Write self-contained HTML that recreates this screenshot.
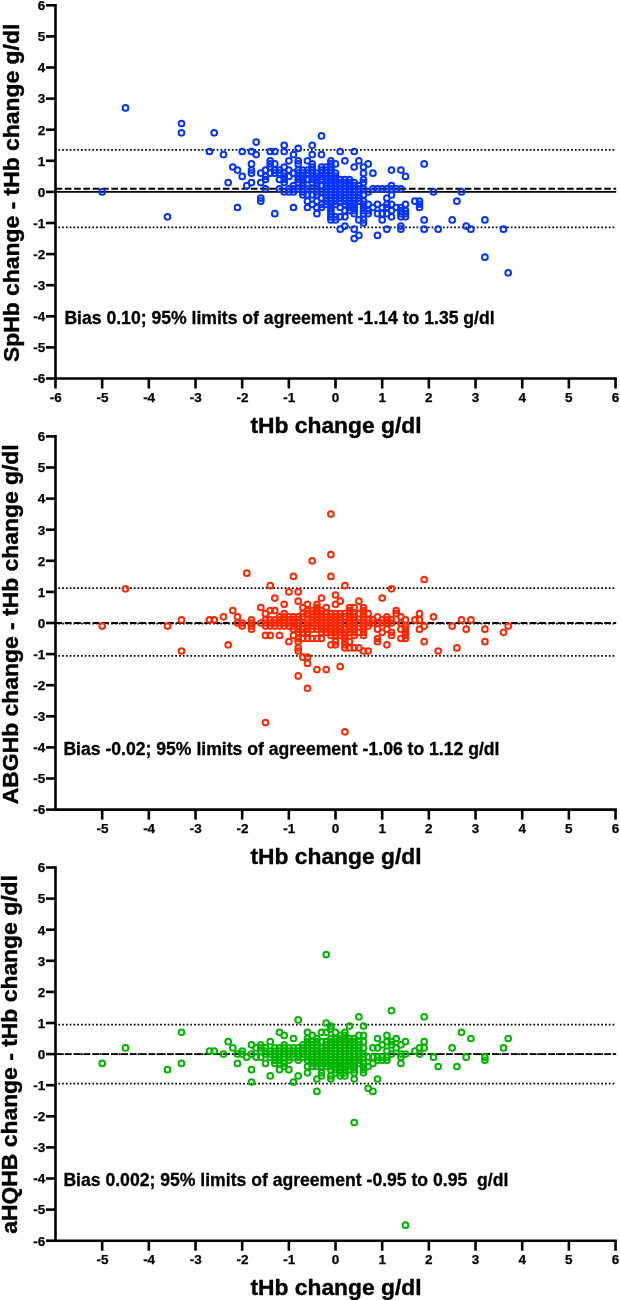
<!DOCTYPE html><html><head><meta charset="utf-8"><title>Bland-Altman</title><style>html,body{margin:0;padding:0;background:#fff}svg{display:block}text{font-family:"Liberation Sans",Arial,Helvetica,sans-serif;font-weight:bold;fill:#000;stroke:#000;stroke-width:.4px}.t{font-size:13.5px;stroke-width:.25px}.xl{font-size:22.8px}.yl{font-size:22.9px}.an{font-size:17.6px;stroke-width:.3px;white-space:pre}</style></head><body>
<svg width="620" height="1300" viewBox="0 0 620 1300">
<rect width="620" height="1300" fill="#fff"/>
<g id="panel1">
<line x1="55.5" x2="616.2" y1="149.92" y2="149.92" stroke="#000" stroke-width="1.7" stroke-dasharray="1.7 2.07" stroke-dashoffset="-2.9"/>
<line x1="55.5" x2="616.2" y1="227.35" y2="227.35" stroke="#000" stroke-width="1.7" stroke-dasharray="1.7 2.07" stroke-dashoffset="-2.9"/>
<line x1="55.5" x2="616.2" y1="191.90" y2="191.90" stroke="#000" stroke-width="1.9"/>
<line x1="55.5" x2="616.2" y1="188.79" y2="188.79" stroke="#000" stroke-width="1.9" stroke-dasharray="6.7 2.6"/>
<g fill="none" stroke="#0433ff" stroke-width="2">
<circle cx="102.2" cy="191.9" r="2.85"/>
<circle cx="125.5" cy="107.9" r="2.85"/>
<circle cx="167.5" cy="216.8" r="2.85"/>
<circle cx="181.5" cy="123.5" r="2.85"/>
<circle cx="181.5" cy="132.8" r="2.85"/>
<circle cx="209.5" cy="151.5" r="2.85"/>
<circle cx="214.2" cy="132.8" r="2.85"/>
<circle cx="223.5" cy="154.6" r="2.85"/>
<circle cx="228.2" cy="182.6" r="2.85"/>
<circle cx="232.8" cy="167.0" r="2.85"/>
<circle cx="237.5" cy="170.1" r="2.85"/>
<circle cx="237.5" cy="207.5" r="2.85"/>
<circle cx="242.2" cy="151.5" r="2.85"/>
<circle cx="242.2" cy="176.4" r="2.85"/>
<circle cx="246.8" cy="185.7" r="2.85"/>
<circle cx="251.5" cy="151.5" r="2.85"/>
<circle cx="251.5" cy="163.9" r="2.85"/>
<circle cx="251.5" cy="170.1" r="2.85"/>
<circle cx="251.5" cy="173.2" r="2.85"/>
<circle cx="251.5" cy="182.6" r="2.85"/>
<circle cx="256.2" cy="142.1" r="2.85"/>
<circle cx="256.2" cy="154.6" r="2.85"/>
<circle cx="260.8" cy="173.2" r="2.85"/>
<circle cx="260.8" cy="182.6" r="2.85"/>
<circle cx="260.8" cy="198.1" r="2.85"/>
<circle cx="260.8" cy="201.2" r="2.85"/>
<circle cx="265.5" cy="170.1" r="2.85"/>
<circle cx="265.5" cy="176.4" r="2.85"/>
<circle cx="265.5" cy="179.5" r="2.85"/>
<circle cx="265.5" cy="188.8" r="2.85"/>
<circle cx="270.2" cy="151.5" r="2.85"/>
<circle cx="270.2" cy="160.8" r="2.85"/>
<circle cx="270.2" cy="163.9" r="2.85"/>
<circle cx="270.2" cy="167.0" r="2.85"/>
<circle cx="270.2" cy="173.2" r="2.85"/>
<circle cx="274.8" cy="151.5" r="2.85"/>
<circle cx="274.8" cy="163.9" r="2.85"/>
<circle cx="274.8" cy="170.1" r="2.85"/>
<circle cx="274.8" cy="173.2" r="2.85"/>
<circle cx="274.8" cy="213.7" r="2.85"/>
<circle cx="279.5" cy="170.1" r="2.85"/>
<circle cx="279.5" cy="173.2" r="2.85"/>
<circle cx="279.5" cy="179.5" r="2.85"/>
<circle cx="279.5" cy="188.8" r="2.85"/>
<circle cx="284.2" cy="145.3" r="2.85"/>
<circle cx="284.2" cy="151.5" r="2.85"/>
<circle cx="284.2" cy="167.0" r="2.85"/>
<circle cx="284.2" cy="173.2" r="2.85"/>
<circle cx="284.2" cy="176.4" r="2.85"/>
<circle cx="284.2" cy="179.5" r="2.85"/>
<circle cx="284.2" cy="182.6" r="2.85"/>
<circle cx="284.2" cy="191.9" r="2.85"/>
<circle cx="288.9" cy="160.8" r="2.85"/>
<circle cx="288.9" cy="170.1" r="2.85"/>
<circle cx="288.9" cy="176.4" r="2.85"/>
<circle cx="288.9" cy="188.8" r="2.85"/>
<circle cx="288.9" cy="191.9" r="2.85"/>
<circle cx="293.5" cy="154.6" r="2.85"/>
<circle cx="293.5" cy="173.2" r="2.85"/>
<circle cx="293.5" cy="185.7" r="2.85"/>
<circle cx="293.5" cy="188.8" r="2.85"/>
<circle cx="293.5" cy="191.9" r="2.85"/>
<circle cx="293.5" cy="207.5" r="2.85"/>
<circle cx="298.2" cy="148.4" r="2.85"/>
<circle cx="298.2" cy="160.8" r="2.85"/>
<circle cx="298.2" cy="163.9" r="2.85"/>
<circle cx="298.2" cy="170.1" r="2.85"/>
<circle cx="298.2" cy="173.2" r="2.85"/>
<circle cx="298.2" cy="176.4" r="2.85"/>
<circle cx="298.2" cy="179.5" r="2.85"/>
<circle cx="298.2" cy="182.6" r="2.85"/>
<circle cx="298.2" cy="188.8" r="2.85"/>
<circle cx="302.9" cy="170.1" r="2.85"/>
<circle cx="302.9" cy="173.2" r="2.85"/>
<circle cx="302.9" cy="176.4" r="2.85"/>
<circle cx="302.9" cy="179.5" r="2.85"/>
<circle cx="302.9" cy="182.6" r="2.85"/>
<circle cx="302.9" cy="185.7" r="2.85"/>
<circle cx="302.9" cy="188.8" r="2.85"/>
<circle cx="302.9" cy="191.9" r="2.85"/>
<circle cx="302.9" cy="195.0" r="2.85"/>
<circle cx="307.5" cy="160.8" r="2.85"/>
<circle cx="307.5" cy="170.1" r="2.85"/>
<circle cx="307.5" cy="173.2" r="2.85"/>
<circle cx="307.5" cy="179.5" r="2.85"/>
<circle cx="307.5" cy="188.8" r="2.85"/>
<circle cx="307.5" cy="195.0" r="2.85"/>
<circle cx="307.5" cy="201.2" r="2.85"/>
<circle cx="307.5" cy="207.5" r="2.85"/>
<circle cx="312.2" cy="145.3" r="2.85"/>
<circle cx="312.2" cy="154.6" r="2.85"/>
<circle cx="312.2" cy="163.9" r="2.85"/>
<circle cx="312.2" cy="167.0" r="2.85"/>
<circle cx="312.2" cy="170.1" r="2.85"/>
<circle cx="312.2" cy="173.2" r="2.85"/>
<circle cx="312.2" cy="176.4" r="2.85"/>
<circle cx="312.2" cy="179.5" r="2.85"/>
<circle cx="312.2" cy="182.6" r="2.85"/>
<circle cx="312.2" cy="188.8" r="2.85"/>
<circle cx="312.2" cy="195.0" r="2.85"/>
<circle cx="312.2" cy="204.3" r="2.85"/>
<circle cx="316.9" cy="173.2" r="2.85"/>
<circle cx="316.9" cy="176.4" r="2.85"/>
<circle cx="316.9" cy="179.5" r="2.85"/>
<circle cx="316.9" cy="182.6" r="2.85"/>
<circle cx="316.9" cy="185.7" r="2.85"/>
<circle cx="316.9" cy="188.8" r="2.85"/>
<circle cx="316.9" cy="191.9" r="2.85"/>
<circle cx="316.9" cy="195.0" r="2.85"/>
<circle cx="316.9" cy="201.2" r="2.85"/>
<circle cx="316.9" cy="207.5" r="2.85"/>
<circle cx="316.9" cy="213.7" r="2.85"/>
<circle cx="321.5" cy="135.9" r="2.85"/>
<circle cx="321.5" cy="154.6" r="2.85"/>
<circle cx="321.5" cy="167.0" r="2.85"/>
<circle cx="321.5" cy="170.1" r="2.85"/>
<circle cx="321.5" cy="173.2" r="2.85"/>
<circle cx="321.5" cy="176.4" r="2.85"/>
<circle cx="321.5" cy="179.5" r="2.85"/>
<circle cx="321.5" cy="185.7" r="2.85"/>
<circle cx="321.5" cy="191.9" r="2.85"/>
<circle cx="321.5" cy="198.1" r="2.85"/>
<circle cx="321.5" cy="204.3" r="2.85"/>
<circle cx="321.5" cy="207.5" r="2.85"/>
<circle cx="326.2" cy="167.0" r="2.85"/>
<circle cx="326.2" cy="170.1" r="2.85"/>
<circle cx="326.2" cy="173.2" r="2.85"/>
<circle cx="326.2" cy="176.4" r="2.85"/>
<circle cx="326.2" cy="179.5" r="2.85"/>
<circle cx="326.2" cy="182.6" r="2.85"/>
<circle cx="326.2" cy="185.7" r="2.85"/>
<circle cx="326.2" cy="188.8" r="2.85"/>
<circle cx="326.2" cy="191.9" r="2.85"/>
<circle cx="326.2" cy="195.0" r="2.85"/>
<circle cx="326.2" cy="198.1" r="2.85"/>
<circle cx="326.2" cy="201.2" r="2.85"/>
<circle cx="326.2" cy="204.3" r="2.85"/>
<circle cx="330.9" cy="160.8" r="2.85"/>
<circle cx="330.9" cy="163.9" r="2.85"/>
<circle cx="330.9" cy="167.0" r="2.85"/>
<circle cx="330.9" cy="170.1" r="2.85"/>
<circle cx="330.9" cy="173.2" r="2.85"/>
<circle cx="330.9" cy="176.4" r="2.85"/>
<circle cx="330.9" cy="179.5" r="2.85"/>
<circle cx="330.9" cy="182.6" r="2.85"/>
<circle cx="330.9" cy="185.7" r="2.85"/>
<circle cx="330.9" cy="188.8" r="2.85"/>
<circle cx="330.9" cy="191.9" r="2.85"/>
<circle cx="330.9" cy="195.0" r="2.85"/>
<circle cx="330.9" cy="198.1" r="2.85"/>
<circle cx="330.9" cy="201.2" r="2.85"/>
<circle cx="330.9" cy="204.3" r="2.85"/>
<circle cx="330.9" cy="207.5" r="2.85"/>
<circle cx="330.9" cy="210.6" r="2.85"/>
<circle cx="330.9" cy="213.7" r="2.85"/>
<circle cx="330.9" cy="216.8" r="2.85"/>
<circle cx="330.9" cy="219.9" r="2.85"/>
<circle cx="335.5" cy="163.9" r="2.85"/>
<circle cx="335.5" cy="173.2" r="2.85"/>
<circle cx="335.5" cy="176.4" r="2.85"/>
<circle cx="335.5" cy="179.5" r="2.85"/>
<circle cx="335.5" cy="182.6" r="2.85"/>
<circle cx="335.5" cy="185.7" r="2.85"/>
<circle cx="335.5" cy="188.8" r="2.85"/>
<circle cx="335.5" cy="191.9" r="2.85"/>
<circle cx="335.5" cy="195.0" r="2.85"/>
<circle cx="335.5" cy="198.1" r="2.85"/>
<circle cx="335.5" cy="201.2" r="2.85"/>
<circle cx="335.5" cy="204.3" r="2.85"/>
<circle cx="335.5" cy="216.8" r="2.85"/>
<circle cx="335.5" cy="219.9" r="2.85"/>
<circle cx="340.2" cy="151.5" r="2.85"/>
<circle cx="340.2" cy="179.5" r="2.85"/>
<circle cx="340.2" cy="182.6" r="2.85"/>
<circle cx="340.2" cy="185.7" r="2.85"/>
<circle cx="340.2" cy="188.8" r="2.85"/>
<circle cx="340.2" cy="191.9" r="2.85"/>
<circle cx="340.2" cy="195.0" r="2.85"/>
<circle cx="340.2" cy="198.1" r="2.85"/>
<circle cx="340.2" cy="201.2" r="2.85"/>
<circle cx="340.2" cy="207.5" r="2.85"/>
<circle cx="340.2" cy="216.8" r="2.85"/>
<circle cx="340.2" cy="229.2" r="2.85"/>
<circle cx="344.9" cy="160.8" r="2.85"/>
<circle cx="344.9" cy="179.5" r="2.85"/>
<circle cx="344.9" cy="182.6" r="2.85"/>
<circle cx="344.9" cy="185.7" r="2.85"/>
<circle cx="344.9" cy="188.8" r="2.85"/>
<circle cx="344.9" cy="191.9" r="2.85"/>
<circle cx="344.9" cy="195.0" r="2.85"/>
<circle cx="344.9" cy="198.1" r="2.85"/>
<circle cx="344.9" cy="201.2" r="2.85"/>
<circle cx="344.9" cy="204.3" r="2.85"/>
<circle cx="344.9" cy="210.6" r="2.85"/>
<circle cx="344.9" cy="216.8" r="2.85"/>
<circle cx="344.9" cy="226.1" r="2.85"/>
<circle cx="349.5" cy="179.5" r="2.85"/>
<circle cx="349.5" cy="182.6" r="2.85"/>
<circle cx="349.5" cy="185.7" r="2.85"/>
<circle cx="349.5" cy="188.8" r="2.85"/>
<circle cx="349.5" cy="191.9" r="2.85"/>
<circle cx="349.5" cy="195.0" r="2.85"/>
<circle cx="349.5" cy="198.1" r="2.85"/>
<circle cx="349.5" cy="201.2" r="2.85"/>
<circle cx="349.5" cy="204.3" r="2.85"/>
<circle cx="349.5" cy="207.5" r="2.85"/>
<circle cx="349.5" cy="210.6" r="2.85"/>
<circle cx="354.2" cy="151.5" r="2.85"/>
<circle cx="354.2" cy="167.0" r="2.85"/>
<circle cx="354.2" cy="182.6" r="2.85"/>
<circle cx="354.2" cy="185.7" r="2.85"/>
<circle cx="354.2" cy="188.8" r="2.85"/>
<circle cx="354.2" cy="191.9" r="2.85"/>
<circle cx="354.2" cy="195.0" r="2.85"/>
<circle cx="354.2" cy="198.1" r="2.85"/>
<circle cx="354.2" cy="201.2" r="2.85"/>
<circle cx="354.2" cy="204.3" r="2.85"/>
<circle cx="354.2" cy="207.5" r="2.85"/>
<circle cx="354.2" cy="210.6" r="2.85"/>
<circle cx="354.2" cy="213.7" r="2.85"/>
<circle cx="354.2" cy="229.2" r="2.85"/>
<circle cx="354.2" cy="238.6" r="2.85"/>
<circle cx="358.9" cy="160.8" r="2.85"/>
<circle cx="358.9" cy="185.7" r="2.85"/>
<circle cx="358.9" cy="188.8" r="2.85"/>
<circle cx="358.9" cy="191.9" r="2.85"/>
<circle cx="358.9" cy="195.0" r="2.85"/>
<circle cx="358.9" cy="198.1" r="2.85"/>
<circle cx="358.9" cy="201.2" r="2.85"/>
<circle cx="358.9" cy="219.9" r="2.85"/>
<circle cx="358.9" cy="235.4" r="2.85"/>
<circle cx="363.5" cy="167.0" r="2.85"/>
<circle cx="363.5" cy="173.2" r="2.85"/>
<circle cx="363.5" cy="179.5" r="2.85"/>
<circle cx="363.5" cy="182.6" r="2.85"/>
<circle cx="363.5" cy="188.8" r="2.85"/>
<circle cx="363.5" cy="195.0" r="2.85"/>
<circle cx="363.5" cy="201.2" r="2.85"/>
<circle cx="363.5" cy="204.3" r="2.85"/>
<circle cx="363.5" cy="207.5" r="2.85"/>
<circle cx="363.5" cy="210.6" r="2.85"/>
<circle cx="363.5" cy="213.7" r="2.85"/>
<circle cx="363.5" cy="219.9" r="2.85"/>
<circle cx="363.5" cy="223.0" r="2.85"/>
<circle cx="368.2" cy="163.9" r="2.85"/>
<circle cx="368.2" cy="191.9" r="2.85"/>
<circle cx="368.2" cy="204.3" r="2.85"/>
<circle cx="368.2" cy="210.6" r="2.85"/>
<circle cx="368.2" cy="213.7" r="2.85"/>
<circle cx="372.9" cy="173.2" r="2.85"/>
<circle cx="372.9" cy="188.8" r="2.85"/>
<circle cx="372.9" cy="207.5" r="2.85"/>
<circle cx="377.5" cy="188.8" r="2.85"/>
<circle cx="377.5" cy="204.3" r="2.85"/>
<circle cx="377.5" cy="213.7" r="2.85"/>
<circle cx="377.5" cy="235.4" r="2.85"/>
<circle cx="382.2" cy="188.8" r="2.85"/>
<circle cx="382.2" cy="207.5" r="2.85"/>
<circle cx="382.2" cy="213.7" r="2.85"/>
<circle cx="382.2" cy="219.9" r="2.85"/>
<circle cx="386.9" cy="188.8" r="2.85"/>
<circle cx="386.9" cy="198.1" r="2.85"/>
<circle cx="386.9" cy="204.3" r="2.85"/>
<circle cx="386.9" cy="207.5" r="2.85"/>
<circle cx="386.9" cy="213.7" r="2.85"/>
<circle cx="386.9" cy="229.2" r="2.85"/>
<circle cx="391.5" cy="170.1" r="2.85"/>
<circle cx="391.5" cy="185.7" r="2.85"/>
<circle cx="391.5" cy="188.8" r="2.85"/>
<circle cx="391.5" cy="195.0" r="2.85"/>
<circle cx="391.5" cy="204.3" r="2.85"/>
<circle cx="391.5" cy="210.6" r="2.85"/>
<circle cx="391.5" cy="216.8" r="2.85"/>
<circle cx="396.2" cy="188.8" r="2.85"/>
<circle cx="396.2" cy="207.5" r="2.85"/>
<circle cx="400.9" cy="170.1" r="2.85"/>
<circle cx="400.9" cy="188.8" r="2.85"/>
<circle cx="400.9" cy="207.5" r="2.85"/>
<circle cx="400.9" cy="210.6" r="2.85"/>
<circle cx="400.9" cy="213.7" r="2.85"/>
<circle cx="400.9" cy="216.8" r="2.85"/>
<circle cx="400.9" cy="226.1" r="2.85"/>
<circle cx="400.9" cy="229.2" r="2.85"/>
<circle cx="405.5" cy="176.4" r="2.85"/>
<circle cx="405.5" cy="204.3" r="2.85"/>
<circle cx="405.5" cy="210.6" r="2.85"/>
<circle cx="405.5" cy="213.7" r="2.85"/>
<circle cx="405.5" cy="216.8" r="2.85"/>
<circle cx="414.9" cy="201.2" r="2.85"/>
<circle cx="419.5" cy="201.2" r="2.85"/>
<circle cx="419.5" cy="204.3" r="2.85"/>
<circle cx="419.5" cy="207.5" r="2.85"/>
<circle cx="424.2" cy="163.9" r="2.85"/>
<circle cx="424.2" cy="219.9" r="2.85"/>
<circle cx="424.2" cy="229.2" r="2.85"/>
<circle cx="433.5" cy="191.9" r="2.85"/>
<circle cx="438.2" cy="229.2" r="2.85"/>
<circle cx="452.2" cy="219.9" r="2.85"/>
<circle cx="456.9" cy="201.2" r="2.85"/>
<circle cx="461.5" cy="191.9" r="2.85"/>
<circle cx="466.2" cy="226.1" r="2.85"/>
<circle cx="470.9" cy="229.2" r="2.85"/>
<circle cx="484.9" cy="219.9" r="2.85"/>
<circle cx="484.9" cy="257.2" r="2.85"/>
<circle cx="503.5" cy="229.2" r="2.85"/>
<circle cx="508.2" cy="272.8" r="2.85"/>
</g>
<g stroke="#000" stroke-width="2.6" fill="none">
<path d="M55.5 4.00V379.80"/>
<path d="M54.2 378.50H616.84"/>
<path d="M46.0 378.50H55.5"/>
<path d="M46.0 347.40H55.5"/>
<path d="M46.0 316.30H55.5"/>
<path d="M46.0 285.20H55.5"/>
<path d="M46.0 254.10H55.5"/>
<path d="M46.0 223.00H55.5"/>
<path d="M46.0 191.90H55.5"/>
<path d="M46.0 160.80H55.5"/>
<path d="M46.0 129.70H55.5"/>
<path d="M46.0 98.60H55.5"/>
<path d="M46.0 67.50H55.5"/>
<path d="M46.0 36.40H55.5"/>
<path d="M46.0 5.30H55.5"/>
<path d="M55.50 378.50V388.50"/>
<path d="M102.17 378.50V388.50"/>
<path d="M148.84 378.50V388.50"/>
<path d="M195.51 378.50V388.50"/>
<path d="M242.18 378.50V388.50"/>
<path d="M288.85 378.50V388.50"/>
<path d="M335.52 378.50V388.50"/>
<path d="M382.19 378.50V388.50"/>
<path d="M428.86 378.50V388.50"/>
<path d="M475.53 378.50V388.50"/>
<path d="M522.20 378.50V388.50"/>
<path d="M568.87 378.50V388.50"/>
<path d="M615.54 378.50V388.50"/>
</g>
<text class="t" x="45.3" y="383.30" text-anchor="end">-6</text>
<text class="t" x="45.3" y="352.20" text-anchor="end">-5</text>
<text class="t" x="45.3" y="321.10" text-anchor="end">-4</text>
<text class="t" x="45.3" y="290.00" text-anchor="end">-3</text>
<text class="t" x="45.3" y="258.90" text-anchor="end">-2</text>
<text class="t" x="45.3" y="227.80" text-anchor="end">-1</text>
<text class="t" x="45.3" y="196.70" text-anchor="end">0</text>
<text class="t" x="45.3" y="165.60" text-anchor="end">1</text>
<text class="t" x="45.3" y="134.50" text-anchor="end">2</text>
<text class="t" x="45.3" y="103.40" text-anchor="end">3</text>
<text class="t" x="45.3" y="72.30" text-anchor="end">4</text>
<text class="t" x="45.3" y="41.20" text-anchor="end">5</text>
<text class="t" x="45.3" y="10.10" text-anchor="end">6</text>
<text class="t" x="55.80" y="401.80" text-anchor="middle">-6</text>
<text class="t" x="102.47" y="401.80" text-anchor="middle">-5</text>
<text class="t" x="149.14" y="401.80" text-anchor="middle">-4</text>
<text class="t" x="195.81" y="401.80" text-anchor="middle">-3</text>
<text class="t" x="242.48" y="401.80" text-anchor="middle">-2</text>
<text class="t" x="289.15" y="401.80" text-anchor="middle">-1</text>
<text class="t" x="335.52" y="401.80" text-anchor="middle">0</text>
<text class="t" x="382.19" y="401.80" text-anchor="middle">1</text>
<text class="t" x="428.86" y="401.80" text-anchor="middle">2</text>
<text class="t" x="475.53" y="401.80" text-anchor="middle">3</text>
<text class="t" x="522.20" y="401.80" text-anchor="middle">4</text>
<text class="t" x="568.87" y="401.80" text-anchor="middle">5</text>
<text class="t" x="615.54" y="401.80" text-anchor="middle">6</text>
<text class="xl" x="336" y="432.50" text-anchor="middle">tHb change g/dl</text>
<text class="yl" transform="translate(18.7 362.00) rotate(-90)">SpHb change - tHb change g/dl</text>
<text class="an" x="64.4" y="324.20" xml:space="preserve">Bias 0.10; 95% limits of agreement -1.14 to 1.35 g/dl</text>
</g>
<g id="panel2">
<line x1="55.5" x2="616.2" y1="588.17" y2="588.17" stroke="#000" stroke-width="1.7" stroke-dasharray="1.7 2.07" stroke-dashoffset="-2.9"/>
<line x1="55.5" x2="616.2" y1="655.97" y2="655.97" stroke="#000" stroke-width="1.7" stroke-dasharray="1.7 2.07" stroke-dashoffset="-2.9"/>
<line x1="55.5" x2="616.2" y1="623.00" y2="623.00" stroke="#000" stroke-width="1.9" stroke-dasharray="6.7 2.6"/>
<line x1="55.5" x2="616.2" y1="623.62" y2="623.62" stroke="#000" stroke-width="1.7" stroke-dasharray="1.7 2.07" stroke-dashoffset="-2.9"/>
<g fill="none" stroke="#ff2600" stroke-width="2">
<circle cx="102.2" cy="626.1" r="2.85"/>
<circle cx="125.5" cy="588.8" r="2.85"/>
<circle cx="167.5" cy="626.1" r="2.85"/>
<circle cx="181.5" cy="619.9" r="2.85"/>
<circle cx="181.5" cy="651.0" r="2.85"/>
<circle cx="209.5" cy="619.9" r="2.85"/>
<circle cx="214.2" cy="619.9" r="2.85"/>
<circle cx="223.5" cy="616.8" r="2.85"/>
<circle cx="228.2" cy="644.8" r="2.85"/>
<circle cx="232.8" cy="610.6" r="2.85"/>
<circle cx="237.5" cy="616.8" r="2.85"/>
<circle cx="237.5" cy="623.0" r="2.85"/>
<circle cx="242.2" cy="623.0" r="2.85"/>
<circle cx="242.2" cy="626.1" r="2.85"/>
<circle cx="246.8" cy="573.2" r="2.85"/>
<circle cx="251.5" cy="619.9" r="2.85"/>
<circle cx="251.5" cy="623.0" r="2.85"/>
<circle cx="251.5" cy="626.1" r="2.85"/>
<circle cx="251.5" cy="629.2" r="2.85"/>
<circle cx="260.8" cy="607.5" r="2.85"/>
<circle cx="260.8" cy="623.0" r="2.85"/>
<circle cx="265.5" cy="613.7" r="2.85"/>
<circle cx="265.5" cy="619.9" r="2.85"/>
<circle cx="265.5" cy="623.0" r="2.85"/>
<circle cx="265.5" cy="626.1" r="2.85"/>
<circle cx="265.5" cy="635.4" r="2.85"/>
<circle cx="265.5" cy="722.5" r="2.85"/>
<circle cx="270.2" cy="585.7" r="2.85"/>
<circle cx="270.2" cy="610.6" r="2.85"/>
<circle cx="270.2" cy="619.9" r="2.85"/>
<circle cx="270.2" cy="623.0" r="2.85"/>
<circle cx="270.2" cy="626.1" r="2.85"/>
<circle cx="270.2" cy="635.4" r="2.85"/>
<circle cx="274.8" cy="598.1" r="2.85"/>
<circle cx="274.8" cy="610.6" r="2.85"/>
<circle cx="274.8" cy="619.9" r="2.85"/>
<circle cx="274.8" cy="623.0" r="2.85"/>
<circle cx="274.8" cy="626.1" r="2.85"/>
<circle cx="279.5" cy="616.8" r="2.85"/>
<circle cx="279.5" cy="619.9" r="2.85"/>
<circle cx="279.5" cy="623.0" r="2.85"/>
<circle cx="279.5" cy="626.1" r="2.85"/>
<circle cx="279.5" cy="635.4" r="2.85"/>
<circle cx="284.2" cy="604.3" r="2.85"/>
<circle cx="284.2" cy="613.7" r="2.85"/>
<circle cx="284.2" cy="616.8" r="2.85"/>
<circle cx="284.2" cy="619.9" r="2.85"/>
<circle cx="284.2" cy="623.0" r="2.85"/>
<circle cx="284.2" cy="626.1" r="2.85"/>
<circle cx="288.9" cy="591.9" r="2.85"/>
<circle cx="288.9" cy="616.8" r="2.85"/>
<circle cx="288.9" cy="619.9" r="2.85"/>
<circle cx="288.9" cy="623.0" r="2.85"/>
<circle cx="288.9" cy="626.1" r="2.85"/>
<circle cx="288.9" cy="641.7" r="2.85"/>
<circle cx="293.5" cy="576.4" r="2.85"/>
<circle cx="293.5" cy="616.8" r="2.85"/>
<circle cx="293.5" cy="619.9" r="2.85"/>
<circle cx="293.5" cy="623.0" r="2.85"/>
<circle cx="293.5" cy="626.1" r="2.85"/>
<circle cx="293.5" cy="629.2" r="2.85"/>
<circle cx="293.5" cy="635.4" r="2.85"/>
<circle cx="298.2" cy="591.9" r="2.85"/>
<circle cx="298.2" cy="601.2" r="2.85"/>
<circle cx="298.2" cy="616.8" r="2.85"/>
<circle cx="298.2" cy="619.9" r="2.85"/>
<circle cx="298.2" cy="623.0" r="2.85"/>
<circle cx="298.2" cy="626.1" r="2.85"/>
<circle cx="298.2" cy="629.2" r="2.85"/>
<circle cx="298.2" cy="632.3" r="2.85"/>
<circle cx="298.2" cy="638.5" r="2.85"/>
<circle cx="298.2" cy="641.7" r="2.85"/>
<circle cx="298.2" cy="647.9" r="2.85"/>
<circle cx="298.2" cy="651.0" r="2.85"/>
<circle cx="298.2" cy="675.9" r="2.85"/>
<circle cx="302.9" cy="607.5" r="2.85"/>
<circle cx="302.9" cy="613.7" r="2.85"/>
<circle cx="302.9" cy="616.8" r="2.85"/>
<circle cx="302.9" cy="623.0" r="2.85"/>
<circle cx="302.9" cy="629.2" r="2.85"/>
<circle cx="302.9" cy="632.3" r="2.85"/>
<circle cx="302.9" cy="638.5" r="2.85"/>
<circle cx="302.9" cy="657.2" r="2.85"/>
<circle cx="307.5" cy="604.3" r="2.85"/>
<circle cx="307.5" cy="610.6" r="2.85"/>
<circle cx="307.5" cy="613.7" r="2.85"/>
<circle cx="307.5" cy="619.9" r="2.85"/>
<circle cx="307.5" cy="623.0" r="2.85"/>
<circle cx="307.5" cy="626.1" r="2.85"/>
<circle cx="307.5" cy="629.2" r="2.85"/>
<circle cx="307.5" cy="632.3" r="2.85"/>
<circle cx="307.5" cy="638.5" r="2.85"/>
<circle cx="307.5" cy="657.2" r="2.85"/>
<circle cx="307.5" cy="663.4" r="2.85"/>
<circle cx="307.5" cy="688.3" r="2.85"/>
<circle cx="312.2" cy="560.8" r="2.85"/>
<circle cx="312.2" cy="610.6" r="2.85"/>
<circle cx="312.2" cy="613.7" r="2.85"/>
<circle cx="312.2" cy="616.8" r="2.85"/>
<circle cx="312.2" cy="619.9" r="2.85"/>
<circle cx="312.2" cy="623.0" r="2.85"/>
<circle cx="312.2" cy="626.1" r="2.85"/>
<circle cx="312.2" cy="629.2" r="2.85"/>
<circle cx="312.2" cy="638.5" r="2.85"/>
<circle cx="316.9" cy="604.3" r="2.85"/>
<circle cx="316.9" cy="607.5" r="2.85"/>
<circle cx="316.9" cy="610.6" r="2.85"/>
<circle cx="316.9" cy="613.7" r="2.85"/>
<circle cx="316.9" cy="616.8" r="2.85"/>
<circle cx="316.9" cy="619.9" r="2.85"/>
<circle cx="316.9" cy="623.0" r="2.85"/>
<circle cx="316.9" cy="626.1" r="2.85"/>
<circle cx="316.9" cy="629.2" r="2.85"/>
<circle cx="316.9" cy="638.5" r="2.85"/>
<circle cx="316.9" cy="669.6" r="2.85"/>
<circle cx="321.5" cy="598.1" r="2.85"/>
<circle cx="321.5" cy="610.6" r="2.85"/>
<circle cx="321.5" cy="613.7" r="2.85"/>
<circle cx="321.5" cy="616.8" r="2.85"/>
<circle cx="321.5" cy="619.9" r="2.85"/>
<circle cx="321.5" cy="623.0" r="2.85"/>
<circle cx="321.5" cy="626.1" r="2.85"/>
<circle cx="321.5" cy="629.2" r="2.85"/>
<circle cx="321.5" cy="632.3" r="2.85"/>
<circle cx="321.5" cy="638.5" r="2.85"/>
<circle cx="326.2" cy="607.5" r="2.85"/>
<circle cx="326.2" cy="613.7" r="2.85"/>
<circle cx="326.2" cy="616.8" r="2.85"/>
<circle cx="326.2" cy="619.9" r="2.85"/>
<circle cx="326.2" cy="623.0" r="2.85"/>
<circle cx="326.2" cy="626.1" r="2.85"/>
<circle cx="326.2" cy="629.2" r="2.85"/>
<circle cx="326.2" cy="632.3" r="2.85"/>
<circle cx="326.2" cy="669.6" r="2.85"/>
<circle cx="330.9" cy="514.1" r="2.85"/>
<circle cx="330.9" cy="554.6" r="2.85"/>
<circle cx="330.9" cy="576.4" r="2.85"/>
<circle cx="330.9" cy="613.7" r="2.85"/>
<circle cx="330.9" cy="616.8" r="2.85"/>
<circle cx="330.9" cy="619.9" r="2.85"/>
<circle cx="330.9" cy="623.0" r="2.85"/>
<circle cx="330.9" cy="626.1" r="2.85"/>
<circle cx="330.9" cy="629.2" r="2.85"/>
<circle cx="330.9" cy="632.3" r="2.85"/>
<circle cx="330.9" cy="635.4" r="2.85"/>
<circle cx="330.9" cy="644.8" r="2.85"/>
<circle cx="335.5" cy="595.0" r="2.85"/>
<circle cx="335.5" cy="604.3" r="2.85"/>
<circle cx="335.5" cy="613.7" r="2.85"/>
<circle cx="335.5" cy="616.8" r="2.85"/>
<circle cx="335.5" cy="619.9" r="2.85"/>
<circle cx="335.5" cy="623.0" r="2.85"/>
<circle cx="335.5" cy="626.1" r="2.85"/>
<circle cx="335.5" cy="629.2" r="2.85"/>
<circle cx="335.5" cy="632.3" r="2.85"/>
<circle cx="335.5" cy="635.4" r="2.85"/>
<circle cx="335.5" cy="641.7" r="2.85"/>
<circle cx="335.5" cy="644.8" r="2.85"/>
<circle cx="340.2" cy="601.2" r="2.85"/>
<circle cx="340.2" cy="613.7" r="2.85"/>
<circle cx="340.2" cy="616.8" r="2.85"/>
<circle cx="340.2" cy="619.9" r="2.85"/>
<circle cx="340.2" cy="623.0" r="2.85"/>
<circle cx="340.2" cy="626.1" r="2.85"/>
<circle cx="340.2" cy="629.2" r="2.85"/>
<circle cx="340.2" cy="632.3" r="2.85"/>
<circle cx="340.2" cy="635.4" r="2.85"/>
<circle cx="340.2" cy="666.5" r="2.85"/>
<circle cx="344.9" cy="585.7" r="2.85"/>
<circle cx="344.9" cy="613.7" r="2.85"/>
<circle cx="344.9" cy="616.8" r="2.85"/>
<circle cx="344.9" cy="623.0" r="2.85"/>
<circle cx="344.9" cy="629.2" r="2.85"/>
<circle cx="344.9" cy="632.3" r="2.85"/>
<circle cx="344.9" cy="635.4" r="2.85"/>
<circle cx="344.9" cy="638.5" r="2.85"/>
<circle cx="344.9" cy="641.7" r="2.85"/>
<circle cx="344.9" cy="644.8" r="2.85"/>
<circle cx="344.9" cy="647.9" r="2.85"/>
<circle cx="344.9" cy="731.8" r="2.85"/>
<circle cx="349.5" cy="607.5" r="2.85"/>
<circle cx="349.5" cy="610.6" r="2.85"/>
<circle cx="349.5" cy="613.7" r="2.85"/>
<circle cx="349.5" cy="616.8" r="2.85"/>
<circle cx="349.5" cy="619.9" r="2.85"/>
<circle cx="349.5" cy="623.0" r="2.85"/>
<circle cx="349.5" cy="626.1" r="2.85"/>
<circle cx="349.5" cy="629.2" r="2.85"/>
<circle cx="349.5" cy="632.3" r="2.85"/>
<circle cx="349.5" cy="641.7" r="2.85"/>
<circle cx="349.5" cy="647.9" r="2.85"/>
<circle cx="354.2" cy="607.5" r="2.85"/>
<circle cx="354.2" cy="613.7" r="2.85"/>
<circle cx="354.2" cy="616.8" r="2.85"/>
<circle cx="354.2" cy="619.9" r="2.85"/>
<circle cx="354.2" cy="623.0" r="2.85"/>
<circle cx="354.2" cy="626.1" r="2.85"/>
<circle cx="354.2" cy="629.2" r="2.85"/>
<circle cx="354.2" cy="632.3" r="2.85"/>
<circle cx="354.2" cy="635.4" r="2.85"/>
<circle cx="354.2" cy="647.9" r="2.85"/>
<circle cx="358.9" cy="601.2" r="2.85"/>
<circle cx="358.9" cy="613.7" r="2.85"/>
<circle cx="358.9" cy="623.0" r="2.85"/>
<circle cx="358.9" cy="632.3" r="2.85"/>
<circle cx="358.9" cy="647.9" r="2.85"/>
<circle cx="363.5" cy="607.5" r="2.85"/>
<circle cx="363.5" cy="610.6" r="2.85"/>
<circle cx="363.5" cy="613.7" r="2.85"/>
<circle cx="363.5" cy="616.8" r="2.85"/>
<circle cx="363.5" cy="619.9" r="2.85"/>
<circle cx="363.5" cy="623.0" r="2.85"/>
<circle cx="363.5" cy="626.1" r="2.85"/>
<circle cx="363.5" cy="629.2" r="2.85"/>
<circle cx="363.5" cy="632.3" r="2.85"/>
<circle cx="363.5" cy="635.4" r="2.85"/>
<circle cx="363.5" cy="651.0" r="2.85"/>
<circle cx="368.2" cy="613.7" r="2.85"/>
<circle cx="368.2" cy="619.9" r="2.85"/>
<circle cx="368.2" cy="623.0" r="2.85"/>
<circle cx="368.2" cy="626.1" r="2.85"/>
<circle cx="368.2" cy="651.0" r="2.85"/>
<circle cx="372.9" cy="619.9" r="2.85"/>
<circle cx="372.9" cy="623.0" r="2.85"/>
<circle cx="377.5" cy="616.8" r="2.85"/>
<circle cx="377.5" cy="623.0" r="2.85"/>
<circle cx="377.5" cy="629.2" r="2.85"/>
<circle cx="377.5" cy="638.5" r="2.85"/>
<circle cx="377.5" cy="641.7" r="2.85"/>
<circle cx="382.2" cy="598.1" r="2.85"/>
<circle cx="382.2" cy="619.9" r="2.85"/>
<circle cx="382.2" cy="623.0" r="2.85"/>
<circle cx="382.2" cy="632.3" r="2.85"/>
<circle cx="386.9" cy="616.8" r="2.85"/>
<circle cx="386.9" cy="619.9" r="2.85"/>
<circle cx="386.9" cy="623.0" r="2.85"/>
<circle cx="386.9" cy="629.2" r="2.85"/>
<circle cx="386.9" cy="644.8" r="2.85"/>
<circle cx="391.5" cy="588.8" r="2.85"/>
<circle cx="391.5" cy="619.9" r="2.85"/>
<circle cx="391.5" cy="623.0" r="2.85"/>
<circle cx="391.5" cy="632.3" r="2.85"/>
<circle cx="391.5" cy="635.4" r="2.85"/>
<circle cx="396.2" cy="610.6" r="2.85"/>
<circle cx="396.2" cy="613.7" r="2.85"/>
<circle cx="400.9" cy="616.8" r="2.85"/>
<circle cx="400.9" cy="623.0" r="2.85"/>
<circle cx="400.9" cy="629.2" r="2.85"/>
<circle cx="400.9" cy="638.5" r="2.85"/>
<circle cx="405.5" cy="619.9" r="2.85"/>
<circle cx="405.5" cy="626.1" r="2.85"/>
<circle cx="405.5" cy="629.2" r="2.85"/>
<circle cx="405.5" cy="632.3" r="2.85"/>
<circle cx="405.5" cy="635.4" r="2.85"/>
<circle cx="405.5" cy="638.5" r="2.85"/>
<circle cx="414.9" cy="619.9" r="2.85"/>
<circle cx="419.5" cy="613.7" r="2.85"/>
<circle cx="419.5" cy="619.9" r="2.85"/>
<circle cx="419.5" cy="629.2" r="2.85"/>
<circle cx="424.2" cy="579.5" r="2.85"/>
<circle cx="424.2" cy="626.1" r="2.85"/>
<circle cx="424.2" cy="641.7" r="2.85"/>
<circle cx="433.5" cy="616.8" r="2.85"/>
<circle cx="438.2" cy="651.0" r="2.85"/>
<circle cx="452.2" cy="626.1" r="2.85"/>
<circle cx="456.9" cy="647.9" r="2.85"/>
<circle cx="461.5" cy="619.9" r="2.85"/>
<circle cx="466.2" cy="629.2" r="2.85"/>
<circle cx="470.9" cy="619.9" r="2.85"/>
<circle cx="484.9" cy="629.2" r="2.85"/>
<circle cx="484.9" cy="641.7" r="2.85"/>
<circle cx="503.5" cy="632.3" r="2.85"/>
<circle cx="508.2" cy="626.1" r="2.85"/>
</g>
<g stroke="#000" stroke-width="2.6" fill="none">
<path d="M55.5 435.10V810.90"/>
<path d="M54.2 809.60H616.84"/>
<path d="M46.0 809.60H55.5"/>
<path d="M46.0 778.50H55.5"/>
<path d="M46.0 747.40H55.5"/>
<path d="M46.0 716.30H55.5"/>
<path d="M46.0 685.20H55.5"/>
<path d="M46.0 654.10H55.5"/>
<path d="M46.0 623.00H55.5"/>
<path d="M46.0 591.90H55.5"/>
<path d="M46.0 560.80H55.5"/>
<path d="M46.0 529.70H55.5"/>
<path d="M46.0 498.60H55.5"/>
<path d="M46.0 467.50H55.5"/>
<path d="M46.0 436.40H55.5"/>
<path d="M102.17 809.60V819.60"/>
<path d="M148.84 809.60V819.60"/>
<path d="M195.51 809.60V819.60"/>
<path d="M242.18 809.60V819.60"/>
<path d="M288.85 809.60V819.60"/>
<path d="M335.52 809.60V819.60"/>
<path d="M382.19 809.60V819.60"/>
<path d="M428.86 809.60V819.60"/>
<path d="M475.53 809.60V819.60"/>
<path d="M522.20 809.60V819.60"/>
<path d="M568.87 809.60V819.60"/>
<path d="M615.54 809.60V819.60"/>
</g>
<text class="t" x="45.3" y="814.40" text-anchor="end">-6</text>
<text class="t" x="45.3" y="783.30" text-anchor="end">-5</text>
<text class="t" x="45.3" y="752.20" text-anchor="end">-4</text>
<text class="t" x="45.3" y="721.10" text-anchor="end">-3</text>
<text class="t" x="45.3" y="690.00" text-anchor="end">-2</text>
<text class="t" x="45.3" y="658.90" text-anchor="end">-1</text>
<text class="t" x="45.3" y="627.80" text-anchor="end">0</text>
<text class="t" x="45.3" y="596.70" text-anchor="end">1</text>
<text class="t" x="45.3" y="565.60" text-anchor="end">2</text>
<text class="t" x="45.3" y="534.50" text-anchor="end">3</text>
<text class="t" x="45.3" y="503.40" text-anchor="end">4</text>
<text class="t" x="45.3" y="472.30" text-anchor="end">5</text>
<text class="t" x="45.3" y="441.20" text-anchor="end">6</text>
<text class="t" x="102.47" y="832.90" text-anchor="middle">-5</text>
<text class="t" x="149.14" y="832.90" text-anchor="middle">-4</text>
<text class="t" x="195.81" y="832.90" text-anchor="middle">-3</text>
<text class="t" x="242.48" y="832.90" text-anchor="middle">-2</text>
<text class="t" x="289.15" y="832.90" text-anchor="middle">-1</text>
<text class="t" x="335.52" y="832.90" text-anchor="middle">0</text>
<text class="t" x="382.19" y="832.90" text-anchor="middle">1</text>
<text class="t" x="428.86" y="832.90" text-anchor="middle">2</text>
<text class="t" x="475.53" y="832.90" text-anchor="middle">3</text>
<text class="t" x="522.20" y="832.90" text-anchor="middle">4</text>
<text class="t" x="568.87" y="832.90" text-anchor="middle">5</text>
<text class="t" x="615.54" y="832.90" text-anchor="middle">6</text>
<text class="xl" x="336" y="863.60" text-anchor="middle">tHb change g/dl</text>
<text class="yl" transform="translate(17.7 804.20) rotate(-90)">ABGHb change - tHb change g/dl</text>
<text class="an" x="63.4" y="755.30" xml:space="preserve">Bias -0.02; 95% limits of agreement -1.06 to 1.12 g/dl</text>
</g>
<g id="panel3">
<line x1="55.5" x2="616.2" y1="1024.56" y2="1024.56" stroke="#000" stroke-width="1.7" stroke-dasharray="1.7 2.07" stroke-dashoffset="-2.9"/>
<line x1="55.5" x2="616.2" y1="1083.64" y2="1083.64" stroke="#000" stroke-width="1.7" stroke-dasharray="1.7 2.07" stroke-dashoffset="-2.9"/>
<line x1="55.5" x2="616.2" y1="1054.10" y2="1054.10" stroke="#000" stroke-width="1.9" stroke-dasharray="6.7 2.6"/>
<line x1="55.5" x2="616.2" y1="1054.04" y2="1054.04" stroke="#000" stroke-width="1.7" stroke-dasharray="1.7 2.07" stroke-dashoffset="-2.9"/>
<g fill="none" stroke="#00b400" stroke-width="2">
<circle cx="102.2" cy="1063.4" r="2.85"/>
<circle cx="125.5" cy="1047.9" r="2.85"/>
<circle cx="167.5" cy="1069.7" r="2.85"/>
<circle cx="181.5" cy="1032.3" r="2.85"/>
<circle cx="181.5" cy="1063.4" r="2.85"/>
<circle cx="209.5" cy="1051.0" r="2.85"/>
<circle cx="214.2" cy="1051.0" r="2.85"/>
<circle cx="223.5" cy="1054.1" r="2.85"/>
<circle cx="228.2" cy="1041.7" r="2.85"/>
<circle cx="232.8" cy="1047.9" r="2.85"/>
<circle cx="237.5" cy="1054.1" r="2.85"/>
<circle cx="237.5" cy="1063.4" r="2.85"/>
<circle cx="242.2" cy="1051.0" r="2.85"/>
<circle cx="242.2" cy="1054.1" r="2.85"/>
<circle cx="246.8" cy="1057.2" r="2.85"/>
<circle cx="251.5" cy="1044.8" r="2.85"/>
<circle cx="251.5" cy="1054.1" r="2.85"/>
<circle cx="251.5" cy="1069.7" r="2.85"/>
<circle cx="251.5" cy="1082.1" r="2.85"/>
<circle cx="256.2" cy="1047.9" r="2.85"/>
<circle cx="256.2" cy="1057.2" r="2.85"/>
<circle cx="260.8" cy="1044.8" r="2.85"/>
<circle cx="260.8" cy="1047.9" r="2.85"/>
<circle cx="260.8" cy="1051.0" r="2.85"/>
<circle cx="260.8" cy="1057.2" r="2.85"/>
<circle cx="265.5" cy="1047.9" r="2.85"/>
<circle cx="265.5" cy="1051.0" r="2.85"/>
<circle cx="265.5" cy="1054.1" r="2.85"/>
<circle cx="265.5" cy="1063.4" r="2.85"/>
<circle cx="270.2" cy="1041.7" r="2.85"/>
<circle cx="270.2" cy="1051.0" r="2.85"/>
<circle cx="270.2" cy="1054.1" r="2.85"/>
<circle cx="270.2" cy="1057.2" r="2.85"/>
<circle cx="270.2" cy="1075.9" r="2.85"/>
<circle cx="274.8" cy="1047.9" r="2.85"/>
<circle cx="274.8" cy="1051.0" r="2.85"/>
<circle cx="274.8" cy="1054.1" r="2.85"/>
<circle cx="274.8" cy="1057.2" r="2.85"/>
<circle cx="274.8" cy="1060.3" r="2.85"/>
<circle cx="274.8" cy="1063.4" r="2.85"/>
<circle cx="279.5" cy="1032.3" r="2.85"/>
<circle cx="279.5" cy="1047.9" r="2.85"/>
<circle cx="279.5" cy="1051.0" r="2.85"/>
<circle cx="279.5" cy="1054.1" r="2.85"/>
<circle cx="279.5" cy="1057.2" r="2.85"/>
<circle cx="279.5" cy="1060.3" r="2.85"/>
<circle cx="279.5" cy="1063.4" r="2.85"/>
<circle cx="279.5" cy="1069.7" r="2.85"/>
<circle cx="284.2" cy="1035.4" r="2.85"/>
<circle cx="284.2" cy="1044.8" r="2.85"/>
<circle cx="284.2" cy="1047.9" r="2.85"/>
<circle cx="284.2" cy="1051.0" r="2.85"/>
<circle cx="284.2" cy="1054.1" r="2.85"/>
<circle cx="284.2" cy="1057.2" r="2.85"/>
<circle cx="284.2" cy="1063.4" r="2.85"/>
<circle cx="284.2" cy="1066.5" r="2.85"/>
<circle cx="288.9" cy="1047.9" r="2.85"/>
<circle cx="288.9" cy="1051.0" r="2.85"/>
<circle cx="288.9" cy="1054.1" r="2.85"/>
<circle cx="288.9" cy="1057.2" r="2.85"/>
<circle cx="288.9" cy="1060.3" r="2.85"/>
<circle cx="288.9" cy="1069.7" r="2.85"/>
<circle cx="293.5" cy="1038.5" r="2.85"/>
<circle cx="293.5" cy="1047.9" r="2.85"/>
<circle cx="293.5" cy="1051.0" r="2.85"/>
<circle cx="293.5" cy="1054.1" r="2.85"/>
<circle cx="293.5" cy="1057.2" r="2.85"/>
<circle cx="293.5" cy="1082.1" r="2.85"/>
<circle cx="298.2" cy="1019.9" r="2.85"/>
<circle cx="298.2" cy="1047.9" r="2.85"/>
<circle cx="298.2" cy="1051.0" r="2.85"/>
<circle cx="298.2" cy="1054.1" r="2.85"/>
<circle cx="298.2" cy="1057.2" r="2.85"/>
<circle cx="298.2" cy="1060.3" r="2.85"/>
<circle cx="298.2" cy="1075.9" r="2.85"/>
<circle cx="302.9" cy="1044.8" r="2.85"/>
<circle cx="302.9" cy="1047.9" r="2.85"/>
<circle cx="302.9" cy="1051.0" r="2.85"/>
<circle cx="302.9" cy="1054.1" r="2.85"/>
<circle cx="302.9" cy="1057.2" r="2.85"/>
<circle cx="307.5" cy="1032.3" r="2.85"/>
<circle cx="307.5" cy="1038.5" r="2.85"/>
<circle cx="307.5" cy="1041.7" r="2.85"/>
<circle cx="307.5" cy="1044.8" r="2.85"/>
<circle cx="307.5" cy="1047.9" r="2.85"/>
<circle cx="307.5" cy="1051.0" r="2.85"/>
<circle cx="307.5" cy="1054.1" r="2.85"/>
<circle cx="307.5" cy="1057.2" r="2.85"/>
<circle cx="307.5" cy="1060.3" r="2.85"/>
<circle cx="307.5" cy="1066.5" r="2.85"/>
<circle cx="307.5" cy="1072.8" r="2.85"/>
<circle cx="312.2" cy="1035.4" r="2.85"/>
<circle cx="312.2" cy="1041.7" r="2.85"/>
<circle cx="312.2" cy="1044.8" r="2.85"/>
<circle cx="312.2" cy="1047.9" r="2.85"/>
<circle cx="312.2" cy="1051.0" r="2.85"/>
<circle cx="312.2" cy="1054.1" r="2.85"/>
<circle cx="312.2" cy="1057.2" r="2.85"/>
<circle cx="312.2" cy="1060.3" r="2.85"/>
<circle cx="312.2" cy="1063.4" r="2.85"/>
<circle cx="312.2" cy="1066.5" r="2.85"/>
<circle cx="316.9" cy="1038.5" r="2.85"/>
<circle cx="316.9" cy="1041.7" r="2.85"/>
<circle cx="316.9" cy="1044.8" r="2.85"/>
<circle cx="316.9" cy="1047.9" r="2.85"/>
<circle cx="316.9" cy="1051.0" r="2.85"/>
<circle cx="316.9" cy="1054.1" r="2.85"/>
<circle cx="316.9" cy="1057.2" r="2.85"/>
<circle cx="316.9" cy="1060.3" r="2.85"/>
<circle cx="316.9" cy="1063.4" r="2.85"/>
<circle cx="316.9" cy="1066.5" r="2.85"/>
<circle cx="316.9" cy="1079.0" r="2.85"/>
<circle cx="316.9" cy="1091.4" r="2.85"/>
<circle cx="321.5" cy="1032.3" r="2.85"/>
<circle cx="321.5" cy="1041.7" r="2.85"/>
<circle cx="321.5" cy="1047.9" r="2.85"/>
<circle cx="321.5" cy="1051.0" r="2.85"/>
<circle cx="321.5" cy="1054.1" r="2.85"/>
<circle cx="321.5" cy="1057.2" r="2.85"/>
<circle cx="321.5" cy="1060.3" r="2.85"/>
<circle cx="321.5" cy="1063.4" r="2.85"/>
<circle cx="321.5" cy="1066.5" r="2.85"/>
<circle cx="321.5" cy="1072.8" r="2.85"/>
<circle cx="321.5" cy="1075.9" r="2.85"/>
<circle cx="326.2" cy="954.6" r="2.85"/>
<circle cx="326.2" cy="1023.0" r="2.85"/>
<circle cx="326.2" cy="1032.3" r="2.85"/>
<circle cx="326.2" cy="1041.7" r="2.85"/>
<circle cx="326.2" cy="1044.8" r="2.85"/>
<circle cx="326.2" cy="1047.9" r="2.85"/>
<circle cx="326.2" cy="1051.0" r="2.85"/>
<circle cx="326.2" cy="1054.1" r="2.85"/>
<circle cx="326.2" cy="1057.2" r="2.85"/>
<circle cx="326.2" cy="1060.3" r="2.85"/>
<circle cx="326.2" cy="1063.4" r="2.85"/>
<circle cx="326.2" cy="1066.5" r="2.85"/>
<circle cx="330.9" cy="1026.1" r="2.85"/>
<circle cx="330.9" cy="1029.2" r="2.85"/>
<circle cx="330.9" cy="1038.5" r="2.85"/>
<circle cx="330.9" cy="1041.7" r="2.85"/>
<circle cx="330.9" cy="1044.8" r="2.85"/>
<circle cx="330.9" cy="1047.9" r="2.85"/>
<circle cx="330.9" cy="1051.0" r="2.85"/>
<circle cx="330.9" cy="1054.1" r="2.85"/>
<circle cx="330.9" cy="1057.2" r="2.85"/>
<circle cx="330.9" cy="1060.3" r="2.85"/>
<circle cx="330.9" cy="1063.4" r="2.85"/>
<circle cx="330.9" cy="1066.5" r="2.85"/>
<circle cx="330.9" cy="1069.7" r="2.85"/>
<circle cx="330.9" cy="1075.9" r="2.85"/>
<circle cx="330.9" cy="1079.0" r="2.85"/>
<circle cx="335.5" cy="1032.3" r="2.85"/>
<circle cx="335.5" cy="1038.5" r="2.85"/>
<circle cx="335.5" cy="1041.7" r="2.85"/>
<circle cx="335.5" cy="1044.8" r="2.85"/>
<circle cx="335.5" cy="1047.9" r="2.85"/>
<circle cx="335.5" cy="1051.0" r="2.85"/>
<circle cx="335.5" cy="1054.1" r="2.85"/>
<circle cx="335.5" cy="1057.2" r="2.85"/>
<circle cx="335.5" cy="1060.3" r="2.85"/>
<circle cx="335.5" cy="1063.4" r="2.85"/>
<circle cx="335.5" cy="1066.5" r="2.85"/>
<circle cx="335.5" cy="1069.7" r="2.85"/>
<circle cx="335.5" cy="1072.8" r="2.85"/>
<circle cx="340.2" cy="1035.4" r="2.85"/>
<circle cx="340.2" cy="1038.5" r="2.85"/>
<circle cx="340.2" cy="1041.7" r="2.85"/>
<circle cx="340.2" cy="1044.8" r="2.85"/>
<circle cx="340.2" cy="1047.9" r="2.85"/>
<circle cx="340.2" cy="1051.0" r="2.85"/>
<circle cx="340.2" cy="1054.1" r="2.85"/>
<circle cx="340.2" cy="1057.2" r="2.85"/>
<circle cx="340.2" cy="1060.3" r="2.85"/>
<circle cx="340.2" cy="1063.4" r="2.85"/>
<circle cx="340.2" cy="1066.5" r="2.85"/>
<circle cx="340.2" cy="1069.7" r="2.85"/>
<circle cx="340.2" cy="1072.8" r="2.85"/>
<circle cx="340.2" cy="1075.9" r="2.85"/>
<circle cx="344.9" cy="1032.3" r="2.85"/>
<circle cx="344.9" cy="1035.4" r="2.85"/>
<circle cx="344.9" cy="1038.5" r="2.85"/>
<circle cx="344.9" cy="1041.7" r="2.85"/>
<circle cx="344.9" cy="1044.8" r="2.85"/>
<circle cx="344.9" cy="1047.9" r="2.85"/>
<circle cx="344.9" cy="1051.0" r="2.85"/>
<circle cx="344.9" cy="1054.1" r="2.85"/>
<circle cx="344.9" cy="1057.2" r="2.85"/>
<circle cx="344.9" cy="1060.3" r="2.85"/>
<circle cx="344.9" cy="1063.4" r="2.85"/>
<circle cx="344.9" cy="1066.5" r="2.85"/>
<circle cx="344.9" cy="1069.7" r="2.85"/>
<circle cx="344.9" cy="1072.8" r="2.85"/>
<circle cx="344.9" cy="1075.9" r="2.85"/>
<circle cx="349.5" cy="1026.1" r="2.85"/>
<circle cx="349.5" cy="1038.5" r="2.85"/>
<circle cx="349.5" cy="1041.7" r="2.85"/>
<circle cx="349.5" cy="1044.8" r="2.85"/>
<circle cx="349.5" cy="1047.9" r="2.85"/>
<circle cx="349.5" cy="1051.0" r="2.85"/>
<circle cx="349.5" cy="1054.1" r="2.85"/>
<circle cx="349.5" cy="1057.2" r="2.85"/>
<circle cx="349.5" cy="1060.3" r="2.85"/>
<circle cx="349.5" cy="1063.4" r="2.85"/>
<circle cx="349.5" cy="1066.5" r="2.85"/>
<circle cx="349.5" cy="1069.7" r="2.85"/>
<circle cx="354.2" cy="1038.5" r="2.85"/>
<circle cx="354.2" cy="1041.7" r="2.85"/>
<circle cx="354.2" cy="1044.8" r="2.85"/>
<circle cx="354.2" cy="1047.9" r="2.85"/>
<circle cx="354.2" cy="1051.0" r="2.85"/>
<circle cx="354.2" cy="1054.1" r="2.85"/>
<circle cx="354.2" cy="1057.2" r="2.85"/>
<circle cx="354.2" cy="1060.3" r="2.85"/>
<circle cx="354.2" cy="1063.4" r="2.85"/>
<circle cx="354.2" cy="1066.5" r="2.85"/>
<circle cx="354.2" cy="1069.7" r="2.85"/>
<circle cx="354.2" cy="1072.8" r="2.85"/>
<circle cx="354.2" cy="1079.0" r="2.85"/>
<circle cx="354.2" cy="1122.5" r="2.85"/>
<circle cx="358.9" cy="1016.8" r="2.85"/>
<circle cx="358.9" cy="1035.4" r="2.85"/>
<circle cx="358.9" cy="1041.7" r="2.85"/>
<circle cx="358.9" cy="1044.8" r="2.85"/>
<circle cx="358.9" cy="1047.9" r="2.85"/>
<circle cx="358.9" cy="1051.0" r="2.85"/>
<circle cx="358.9" cy="1054.1" r="2.85"/>
<circle cx="358.9" cy="1057.2" r="2.85"/>
<circle cx="358.9" cy="1060.3" r="2.85"/>
<circle cx="358.9" cy="1063.4" r="2.85"/>
<circle cx="363.5" cy="1026.1" r="2.85"/>
<circle cx="363.5" cy="1035.4" r="2.85"/>
<circle cx="363.5" cy="1041.7" r="2.85"/>
<circle cx="363.5" cy="1047.9" r="2.85"/>
<circle cx="363.5" cy="1054.1" r="2.85"/>
<circle cx="363.5" cy="1057.2" r="2.85"/>
<circle cx="363.5" cy="1063.4" r="2.85"/>
<circle cx="363.5" cy="1066.5" r="2.85"/>
<circle cx="363.5" cy="1069.7" r="2.85"/>
<circle cx="363.5" cy="1072.8" r="2.85"/>
<circle cx="368.2" cy="1057.2" r="2.85"/>
<circle cx="368.2" cy="1066.5" r="2.85"/>
<circle cx="368.2" cy="1088.3" r="2.85"/>
<circle cx="372.9" cy="1047.9" r="2.85"/>
<circle cx="372.9" cy="1057.2" r="2.85"/>
<circle cx="372.9" cy="1063.4" r="2.85"/>
<circle cx="372.9" cy="1091.4" r="2.85"/>
<circle cx="377.5" cy="1038.5" r="2.85"/>
<circle cx="377.5" cy="1047.9" r="2.85"/>
<circle cx="377.5" cy="1057.2" r="2.85"/>
<circle cx="377.5" cy="1060.3" r="2.85"/>
<circle cx="377.5" cy="1079.0" r="2.85"/>
<circle cx="382.2" cy="1044.8" r="2.85"/>
<circle cx="382.2" cy="1057.2" r="2.85"/>
<circle cx="382.2" cy="1060.3" r="2.85"/>
<circle cx="386.9" cy="1035.4" r="2.85"/>
<circle cx="386.9" cy="1041.7" r="2.85"/>
<circle cx="386.9" cy="1051.0" r="2.85"/>
<circle cx="386.9" cy="1057.2" r="2.85"/>
<circle cx="386.9" cy="1060.3" r="2.85"/>
<circle cx="391.5" cy="1010.6" r="2.85"/>
<circle cx="391.5" cy="1041.7" r="2.85"/>
<circle cx="391.5" cy="1044.8" r="2.85"/>
<circle cx="391.5" cy="1054.1" r="2.85"/>
<circle cx="396.2" cy="1038.5" r="2.85"/>
<circle cx="396.2" cy="1047.9" r="2.85"/>
<circle cx="400.9" cy="1044.8" r="2.85"/>
<circle cx="400.9" cy="1054.1" r="2.85"/>
<circle cx="400.9" cy="1057.2" r="2.85"/>
<circle cx="400.9" cy="1063.4" r="2.85"/>
<circle cx="405.5" cy="1041.7" r="2.85"/>
<circle cx="405.5" cy="1054.1" r="2.85"/>
<circle cx="405.5" cy="1225.2" r="2.85"/>
<circle cx="414.9" cy="1051.0" r="2.85"/>
<circle cx="419.5" cy="1047.9" r="2.85"/>
<circle cx="419.5" cy="1054.1" r="2.85"/>
<circle cx="424.2" cy="1016.8" r="2.85"/>
<circle cx="424.2" cy="1041.7" r="2.85"/>
<circle cx="424.2" cy="1047.9" r="2.85"/>
<circle cx="433.5" cy="1057.2" r="2.85"/>
<circle cx="438.2" cy="1066.5" r="2.85"/>
<circle cx="452.2" cy="1047.9" r="2.85"/>
<circle cx="456.9" cy="1066.5" r="2.85"/>
<circle cx="461.5" cy="1032.3" r="2.85"/>
<circle cx="466.2" cy="1057.2" r="2.85"/>
<circle cx="470.9" cy="1038.5" r="2.85"/>
<circle cx="484.9" cy="1057.2" r="2.85"/>
<circle cx="484.9" cy="1060.3" r="2.85"/>
<circle cx="503.5" cy="1047.9" r="2.85"/>
<circle cx="508.2" cy="1038.5" r="2.85"/>
</g>
<g stroke="#000" stroke-width="2.6" fill="none">
<path d="M55.5 866.20V1242.00"/>
<path d="M54.2 1240.70H616.84"/>
<path d="M46.0 1240.70H55.5"/>
<path d="M46.0 1209.60H55.5"/>
<path d="M46.0 1178.50H55.5"/>
<path d="M46.0 1147.40H55.5"/>
<path d="M46.0 1116.30H55.5"/>
<path d="M46.0 1085.20H55.5"/>
<path d="M46.0 1054.10H55.5"/>
<path d="M46.0 1023.00H55.5"/>
<path d="M46.0 991.90H55.5"/>
<path d="M46.0 960.80H55.5"/>
<path d="M46.0 929.70H55.5"/>
<path d="M46.0 898.60H55.5"/>
<path d="M46.0 867.50H55.5"/>
<path d="M102.17 1240.70V1250.70"/>
<path d="M148.84 1240.70V1250.70"/>
<path d="M195.51 1240.70V1250.70"/>
<path d="M242.18 1240.70V1250.70"/>
<path d="M288.85 1240.70V1250.70"/>
<path d="M335.52 1240.70V1250.70"/>
<path d="M382.19 1240.70V1250.70"/>
<path d="M428.86 1240.70V1250.70"/>
<path d="M475.53 1240.70V1250.70"/>
<path d="M522.20 1240.70V1250.70"/>
<path d="M568.87 1240.70V1250.70"/>
<path d="M615.54 1240.70V1250.70"/>
</g>
<text class="t" x="45.3" y="1245.50" text-anchor="end">-6</text>
<text class="t" x="45.3" y="1214.40" text-anchor="end">-5</text>
<text class="t" x="45.3" y="1183.30" text-anchor="end">-4</text>
<text class="t" x="45.3" y="1152.20" text-anchor="end">-3</text>
<text class="t" x="45.3" y="1121.10" text-anchor="end">-2</text>
<text class="t" x="45.3" y="1090.00" text-anchor="end">-1</text>
<text class="t" x="45.3" y="1058.90" text-anchor="end">0</text>
<text class="t" x="45.3" y="1027.80" text-anchor="end">1</text>
<text class="t" x="45.3" y="996.70" text-anchor="end">2</text>
<text class="t" x="45.3" y="965.60" text-anchor="end">3</text>
<text class="t" x="45.3" y="934.50" text-anchor="end">4</text>
<text class="t" x="45.3" y="903.40" text-anchor="end">5</text>
<text class="t" x="45.3" y="872.30" text-anchor="end">6</text>
<text class="t" x="102.47" y="1264.00" text-anchor="middle">-5</text>
<text class="t" x="149.14" y="1264.00" text-anchor="middle">-4</text>
<text class="t" x="195.81" y="1264.00" text-anchor="middle">-3</text>
<text class="t" x="242.48" y="1264.00" text-anchor="middle">-2</text>
<text class="t" x="289.15" y="1264.00" text-anchor="middle">-1</text>
<text class="t" x="335.52" y="1264.00" text-anchor="middle">0</text>
<text class="t" x="382.19" y="1264.00" text-anchor="middle">1</text>
<text class="t" x="428.86" y="1264.00" text-anchor="middle">2</text>
<text class="t" x="475.53" y="1264.00" text-anchor="middle">3</text>
<text class="t" x="522.20" y="1264.00" text-anchor="middle">4</text>
<text class="t" x="568.87" y="1264.00" text-anchor="middle">5</text>
<text class="t" x="615.54" y="1264.00" text-anchor="middle">6</text>
<text class="xl" x="336" y="1294.70" text-anchor="middle">tHb change g/dl</text>
<text class="yl" transform="translate(16.9 1233.80) rotate(-90)">aHQHB change - tHb change g/dl</text>
<text class="an" x="63.4" y="1186.40" xml:space="preserve">Bias 0.002; 95% limits of agreement -0.95 to 0.95  g/dl</text>
</g>
</svg></body></html>
